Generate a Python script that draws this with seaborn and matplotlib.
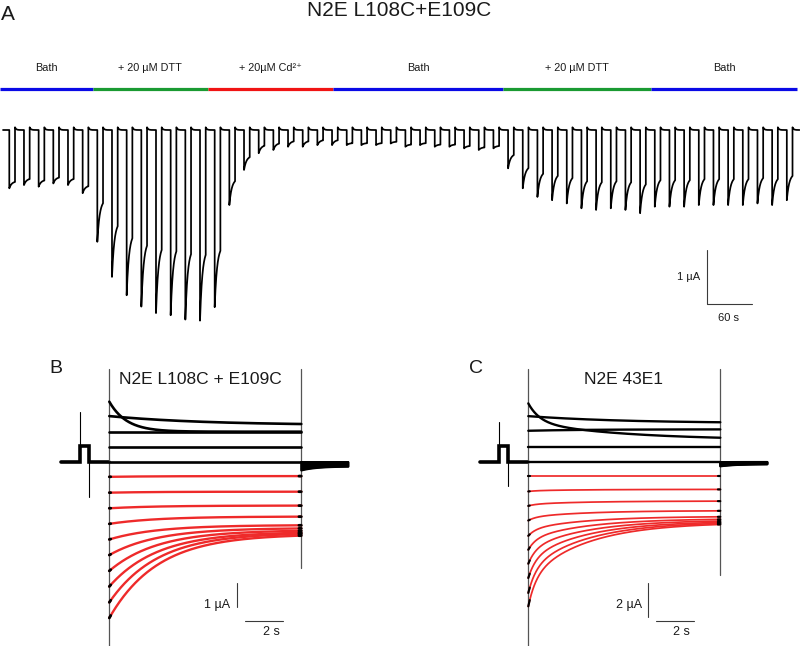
import numpy as np
import pandas as pd
import matplotlib
matplotlib.use("Agg")
import matplotlib.pyplot as plt
import seaborn as sns

sns.set_theme(style="white")
plt.rcParams["font.family"] = ["Liberation Sans", "DejaVu Sans"]

W, H = 800, 646

# ---------------- panel A : perfusion protocol + pulse train ----------------
COND_LABELS = ["Bath", "+ 20 µM DTT", "+ 20µM Cd²⁺", "Bath", "+ 20 µM DTT", "Bath"]
COND_COLORS = ["#0a0ae6", "#1a9a32", "#f01414", "#0a0ae6", "#1a9a32", "#0a0ae6"]
COND_EDGES = [0, 124, 277, 444, 671, 868, 1063]          # s
COND_RELAX = [0.88, 0.62, 0.65, 0.86, 0.62, 0.62]        # steady / peak

# peak inward current of each test pulse (µA)
PULSE_AMP = [1.08, 1.02, 1.05, 0.99, 1.02, 1.17, 2.07, 2.72, 3.06, 3.27,
             3.39, 3.43, 3.51, 3.53, 3.28, 1.39, 0.74, 0.43, 0.37, 0.31,
             0.31, 0.28, 0.28, 0.28, 0.28, 0.28, 0.25,
             0.31, 0.28, 0.31, 0.31, 0.34, 0.37, 0.34, 0.71, 1.08, 1.24,
             1.30, 1.36, 1.45, 1.48, 1.45, 1.48, 1.54, 1.42, 1.42, 1.42,
             1.39, 1.39, 1.39, 1.39, 1.36, 1.39, 1.30]
PULSE_START = 12.4     # s
PULSE_PERIOD = 19.56   # s
PULSE_WIDTH = 7.6      # s
OVERSHOOT = 0.05       # µA

# ---------------- panels B / C : voltage-step families ----------------
B_OUT_START = [2.50, 1.90, 1.25, 0.63, 0.00]
B_OUT_END = [1.25, 1.57, 1.25, 0.63, 0.00]
B_OUT_TAU = [0.9, 5.0, 5.0, 5.0, 5.0]
B_IN_START = [-0.63, -1.29, -1.94, -2.59, -3.24, -3.89, -4.55, -5.20, -5.86, -6.51]
B_IN_END = [-0.60, -1.25, -1.83, -2.29, -2.65, -2.78, -2.88, -2.96, -3.01, -3.08]

C_OUT_START = [3.43, 2.68, 1.82, 0.88, 0.00]
C_OUT_END = [1.41, 2.32, 1.90, 0.88, 0.00]
C_OUT_TAU = [0.6, 5.0, 3.0, 5.0, 5.0]
C_IN_START = [-0.84, -1.75, -2.60, -3.46, -4.36, -5.18, -6.00, -6.84, -7.72, -8.51]
C_IN_END = [-0.84, -1.63, -2.32, -2.89, -3.24, -3.39, -3.49, -3.57, -3.63, -3.69]

STEP = 10.0  # s

RED = "#ee2a2a"
BAR = "#3a3a3a"
TXT = "#1a1a1a"


def px_axes(fig, x0, y0, x1, y1, xo, yo, sx, sy):
    ax = fig.add_axes([x0 / W, 1 - y1 / H, (x1 - x0) / W, (y1 - y0) / H])
    ax.set_xlim((x0 - xo) / sx, (x1 - xo) / sx)
    ax.set_ylim((yo - y1) / sy, (yo - y0) / sy)
    ax.axis("off")
    return ax


def ftext(fig, x, y, s, **kw):
    kw.setdefault("color", TXT)
    fig.text(x / W, 1 - y / H, s, **kw)


def relax(t, i0, i1, tau_f, tau_s=None, w=1.0):
    def g(tau):
        return (np.exp(-t / tau) - np.exp(-STEP / tau)) / (1 - np.exp(-STEP / tau))
    f = w * g(tau_f)
    if tau_s is not None:
        f = f + (1 - w) * g(tau_s)
    return i1 + (i0 - i1) * f


def pulse_train():
    edges = np.array(COND_EDGES)
    ts, ys = [], []
    t_prev = 4.0
    for i, amp in enumerate(PULSE_AMP):
        t0 = PULSE_START + i * PULSE_PERIOD
        tb = np.linspace(t_prev, t0, 12)
        yb = OVERSHOOT * np.exp(-(tb - t_prev) / 1.5) if i > 0 else np.zeros_like(tb)
        seg = np.searchsorted(edges, t0) - 1
        ss = amp * COND_RELAX[seg]
        tp = np.linspace(t0, t0 + PULSE_WIDTH, 30)
        yp = -(ss + (amp - ss) * np.exp(-(tp - t0) / 3.2))
        ts += [tb, tp]
        ys += [yb, yp]
        t_prev = t0 + PULSE_WIDTH
    tb = np.linspace(t_prev, 1066, 10)
    ts.append(tb)
    ys.append(OVERSHOOT * np.exp(-(tb - t_prev) / 1.5))
    return np.concatenate(ts), np.concatenate(ys)


def family(out_start, out_end, out_tau, in_start, in_end, tau_f, tau_s, w, tail):
    t = np.linspace(0, STEP, 400)
    rows = []
    for k, (a, b, tau) in enumerate(zip(out_start, out_end, out_tau)):
        if k == 0 and tau_s is not None:
            y = relax(t, a, b, tau, 5.0, 0.55)
        else:
            y = relax(t, a, b, tau)
        rows.append(pd.DataFrame({"t": t, "I": y, "sweep": f"o{k}", "kind": "out"}))
    for k, (a, b) in enumerate(zip(in_start, in_end)):
        y = relax(t, a, b, tau_f, tau_s, w)
        rows.append(pd.DataFrame({"t": t, "I": y, "sweep": f"i{k}", "kind": "in"}))
    steps = pd.concat(rows, ignore_index=True)

    # tail currents after the step
    n = len(out_start) + len(in_start)
    tt = np.linspace(STEP, STEP + 2.45, 60)
    tails = []
    for k in range(n):
        y = -tail * k / (n - 1) * (0.55 + 0.45 * np.exp(-(tt - STEP) / 0.8))
        tails.append(pd.DataFrame({"t": tt, "I": y, "sweep": f"t{k}"}))
    tails = pd.concat(tails, ignore_index=True)
    return steps, tails


def draw_family(ax, steps, tails, lw_k, lw_r, pre_level, spike_up, spike_dn,
                t_on, t_off, vtop, vbot_l, vbot_r):
    # pre-pulse (common to all sweeps)
    tpre = [-2.5, t_on, t_on, t_off, t_off, 0.0]
    ypre = [0, 0, pre_level, pre_level, 0, 0]
    ax.plot(tpre, ypre, color="black", lw=2.6, solid_joinstyle="miter")
    ax.plot([t_on, t_on], [pre_level, spike_up], color="black", lw=0.8)
    ax.plot([t_off, t_off], [0, spike_dn], color="black", lw=0.8)

    # capacitive transients at step on / off
    ax.plot([0, 0], [vtop, vbot_l], color="#555555", lw=0.9)
    ax.plot([STEP, STEP], [vtop, vbot_r], color="#555555", lw=0.9)

    out = steps[steps["kind"] == "out"]
    inw = steps[steps["kind"] == "in"]
    sns.lineplot(data=out, x="t", y="I", units="sweep", estimator=None,
                 sort=False, color="black", lw=lw_k, ax=ax, legend=False)
    sns.lineplot(data=inw, x="t", y="I", units="sweep", estimator=None,
                 sort=False, color=RED, lw=lw_r, ax=ax, legend=False)
    # short black ends of the inward sweeps
    ends = inw[(inw["t"] > STEP - 0.15) | (inw["t"] < 0.08)].copy()
    ends["grp"] = ends["sweep"] + (ends["t"] < 1).astype(str)
    sns.lineplot(data=ends, x="t", y="I", units="grp", estimator=None,
                 sort=False, color="black", lw=lw_r + 0.3, ax=ax, legend=False)
    sns.lineplot(data=tails, x="t", y="I", units="sweep", estimator=None,
                 sort=False, color="black", lw=1.4, ax=ax, legend=False)
    ax.set_xlabel("")
    ax.set_ylabel("")
    ax.axis("off")


fig = plt.figure(figsize=(W / 100, H / 100), dpi=100)

# ---------------- panel A ----------------
axA = px_axes(fig, 0, 30, 800, 340, 0, 130, 0.75, 54)
for lab, col, a, b in zip(COND_LABELS, COND_COLORS, COND_EDGES[:-1], COND_EDGES[1:]):
    axA.plot([a, b], [0.759, 0.759], color=col, lw=2.3, solid_capstyle="butt")
    axA.text((a + b) / 2, 1.157, lab, ha="center", va="center", fontsize=7.8, color=TXT)
tA, yA = pulse_train()
sns.lineplot(x=tA, y=yA, estimator=None, sort=False, color="black", lw=1.25, ax=axA)
axA.axis("off")
# scale bar 1 µA / 60 s
axA.plot([942.7, 942.7, 1002.7], [-2.222, -3.222, -3.222], color=BAR, lw=0.8)
ftext(fig, 700, 277, "1 µA", ha="right", va="center", fontsize=8)
ftext(fig, 729, 318, "60 s", ha="center", va="center", fontsize=8)

ftext(fig, 1, 14, "A", ha="left", va="center", fontsize=15)
ftext(fig, 399, 10.5, "N2E L108C+E109C", ha="center", va="center", fontsize=15)

# ---------------- panel B ----------------
axB = px_axes(fig, 40, 355, 365, 646, 109.3, 461.7, 19.2, 24)
stB, tlB = family(B_OUT_START, B_OUT_END, B_OUT_TAU, B_IN_START, B_IN_END,
                  2.5, None, 1.0, 0.37)
draw_family(axB, stB, tlB, 1.9, 1.7, 0.65, 2.09, -1.47, -1.53, -1.04,
            3.86, -7.68, -4.43)
axB.plot([6.635, 6.635], [-5.04, -6.04], color=BAR, lw=0.8)
axB.plot([7.07, 9.07], [-6.64, -6.64], color=BAR, lw=0.8)
ftext(fig, 217, 605, "1 µA", ha="center", va="center", fontsize=9)
ftext(fig, 271, 632, "2 s", ha="center", va="center", fontsize=9)
ftext(fig, 55.5, 368.5, "B", ha="center", va="center", fontsize=14)
ftext(fig, 200, 380, "N2E L108C + E109C", ha="center", va="center", fontsize=12.5)

# ---------------- panel C ----------------
axC = px_axes(fig, 455, 355, 785, 646, 528.3, 461.7, 19.2, 17)
stC, tlC = family(C_OUT_START, C_OUT_END, C_OUT_TAU, C_IN_START, C_IN_END,
                  0.4, 3.0, 0.35, 0.28)
draw_family(axC, stC, tlC, 1.7, 1.25, 0.92, 2.34, -1.43, -1.52, -1.05,
            5.45, -10.84, -6.66)
axC.plot([6.25, 6.25], [-7.12, -9.12], color=BAR, lw=0.8)
axC.plot([6.65, 8.65], [-9.37, -9.37], color=BAR, lw=0.8)
ftext(fig, 629, 605, "2 µA", ha="center", va="center", fontsize=9)
ftext(fig, 681.7, 632, "2 s", ha="center", va="center", fontsize=9)
ftext(fig, 476.5, 368.5, "C", ha="center", va="center", fontsize=14)
ftext(fig, 623, 380, "N2E 43E1", ha="center", va="center", fontsize=12.5)

fig.savefig("out.png", dpi=100)
